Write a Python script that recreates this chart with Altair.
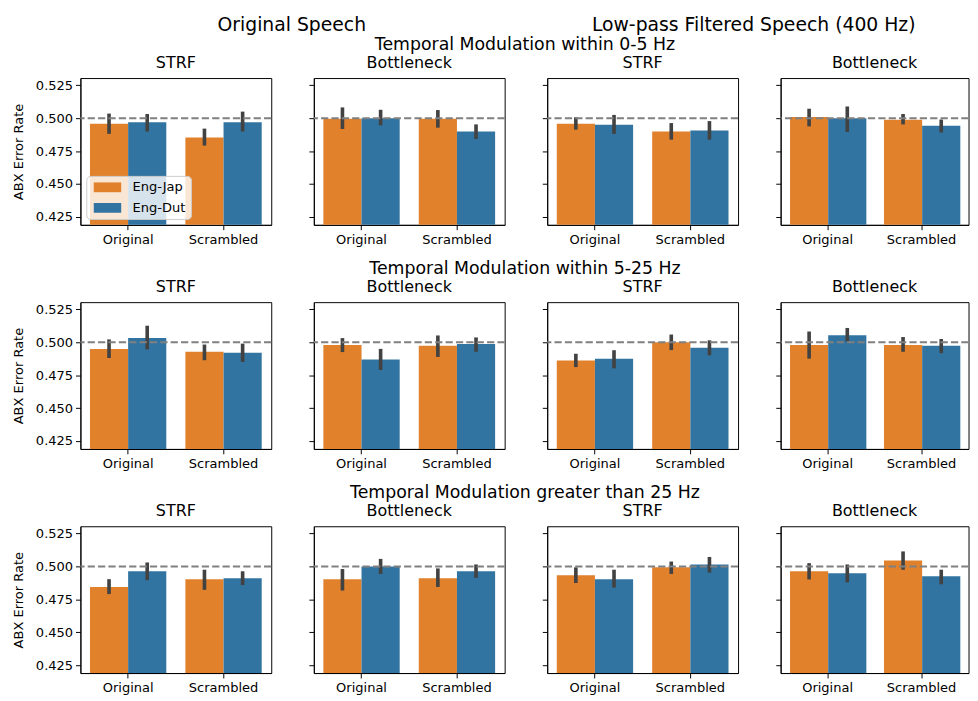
import altair as alt
import pandas as pd

CONDITIONS = ["Original", "Scrambled"]
LANG_PAIRS = ["Eng-Jap", "Eng-Dut"]
COLORS = ["#e1812c", "#3274a1"]
SPEECH_TYPES = ["Original Speech", "Low-pass Filtered Speech (400 Hz)"]
PANEL_MODELS = ["STRF", "Bottleneck", "STRF", "Bottleneck"]
ROW_TITLES = [
    "Temporal Modulation within 0-5 Hz",
    "Temporal Modulation within 5-25 Hz",
    "Temporal Modulation greater than 25 Hz",
]
CHANCE = 0.5
Y_TICKS = [0.425, 0.45, 0.475, 0.5, 0.525]
Y_DOMAIN = [0.419, 0.5305]

# order inside each panel: Original/Eng-Jap, Original/Eng-Dut, Scrambled/Eng-Jap, Scrambled/Eng-Dut
MEAN_0_5 = [
    [0.4958, 0.4970, 0.4854, 0.4970],
    [0.4995, 0.5000, 0.4995, 0.4899],
    [0.4958, 0.4950, 0.4899, 0.4906],
    [0.5010, 0.5000, 0.4988, 0.4943],
]
LO_0_5 = [
    [0.4881, 0.4899, 0.4792, 0.4899],
    [0.4918, 0.4946, 0.4928, 0.4842],
    [0.4913, 0.4881, 0.4837, 0.4837],
    [0.4938, 0.4896, 0.4953, 0.4891],
]
HI_0_5 = [
    [0.5035, 0.5032, 0.4921, 0.5050],
    [0.5082, 0.5064, 0.5062, 0.4953],
    [0.5007, 0.5025, 0.4963, 0.4978],
    [0.5072, 0.5089, 0.5032, 0.4990],
]

MEAN_5_25 = [
    [0.4950, 0.5032, 0.4928, 0.4921],
    [0.4980, 0.4869, 0.4973, 0.4988],
    [0.4861, 0.4876, 0.5000, 0.4958],
    [0.4980, 0.5054, 0.4980, 0.4973],
]
LO_5_25 = [
    [0.4881, 0.4946, 0.4864, 0.4851],
    [0.4926, 0.4790, 0.4889, 0.4928],
    [0.4812, 0.4802, 0.4941, 0.4901],
    [0.4876, 0.5007, 0.4928, 0.4918],
]
HI_5_25 = [
    [0.5022, 0.5126, 0.4983, 0.4990],
    [0.5032, 0.4950, 0.5052, 0.5037],
    [0.4913, 0.4940, 0.5059, 0.5015],
    [0.5082, 0.5109, 0.5040, 0.5025],
]

MEAN_GT25 = [
    [0.4844, 0.4963, 0.4903, 0.4911],
    [0.4903, 0.5000, 0.4911, 0.4963],
    [0.4933, 0.4903, 0.4993, 0.5015],
    [0.4963, 0.4948, 0.5045, 0.4926],
]
LO_GT25 = [
    [0.4790, 0.4896, 0.4822, 0.4859],
    [0.4817, 0.4943, 0.4844, 0.4913],
    [0.4874, 0.4839, 0.4943, 0.4953],
    [0.4901, 0.4879, 0.4975, 0.4864],
]
HI_GT25 = [
    [0.4903, 0.5030, 0.4975, 0.4963],
    [0.4980, 0.5057, 0.4985, 0.5015],
    [0.4993, 0.4975, 0.5037, 0.5072],
    [0.5025, 0.5015, 0.5114, 0.4975],
]

ROWS = [
    (MEAN_0_5, LO_0_5, HI_0_5),
    (MEAN_5_25, LO_5_25, HI_5_25),
    (MEAN_GT25, LO_GT25, HI_GT25),
]

FONT = "DejaVu Sans"
PANEL_W = [195, 195, 195, 192]
PANEL_H = 150

LEGEND_SYMBOL = "M-2.8,-1L2.8,-1L2.8,1L-2.8,1Z"


def panel(mean, lo, hi, model, col, with_legend):
    df = pd.DataFrame({
        "condition": [c for c in CONDITIONS for _ in LANG_PAIRS],
        "pair": [p for _ in CONDITIONS for p in LANG_PAIRS],
        "mean": mean,
        "lo": lo,
        "hi": hi,
    })
    x = alt.X("condition:N", sort=CONDITIONS,
              scale=alt.Scale(domain=CONDITIONS, paddingInner=0.2, paddingOuter=0.1),
              axis=alt.Axis(title=None, labelAngle=0, ticks=True, domain=True))
    xo = alt.XOffset("pair:N", sort=LANG_PAIRS,
                     scale=alt.Scale(domain=LANG_PAIRS, paddingInner=0, paddingOuter=0))
    first = col == 0
    if first:
        yaxis = alt.Axis(values=Y_TICKS, format=".3f", title="ABX Error Rate",
                         labels=True, ticks=True, titlePadding=10)
    else:
        yaxis = alt.Axis(values=Y_TICKS, format=".3f", title=None,
                         labels=False, ticks=True)
    yscale = alt.Scale(domain=Y_DOMAIN, zero=False, nice=False)
    if with_legend:
        legend = alt.Legend(title=None, orient="bottom-left", offset=6,
                            symbolType=LEGEND_SYMBOL, symbolSize=100, symbolOffset=10,
                            symbolStrokeWidth=0, symbolOpacity=1,
                            fillColor="rgba(255,255,255,0.8)", strokeColor="#cccccc",
                            cornerRadius=4, padding=5, rowPadding=7,
                            labelFontSize=13.3, labelColor="black", labelOffset=19,
                            labelFont=FONT)
    else:
        legend = None
    bars = alt.Chart(df).mark_bar(clip=True).encode(
        x=x, xOffset=xo,
        y=alt.Y("mean:Q", scale=yscale, axis=yaxis),
        color=alt.Color("pair:N", sort=LANG_PAIRS,
                        scale=alt.Scale(domain=LANG_PAIRS, range=COLORS),
                        legend=legend),
    )
    errs = alt.Chart(df).mark_rule(color="#424242", strokeWidth=3.7).encode(
        x=x, xOffset=xo,
        y=alt.Y("lo:Q", scale=yscale, axis=yaxis),
        y2="hi:Q",
    )
    chance = alt.Chart(pd.DataFrame({"chance": [CHANCE]})).mark_rule(
        color="#808080", strokeWidth=2, strokeDash=[7.4, 3.2]
    ).encode(y=alt.Y("chance:Q", scale=yscale, axis=yaxis))
    return alt.layer(bars, errs, chance).properties(
        width=PANEL_W[col], height=PANEL_H,
        title=alt.TitleParams(model, fontSize=16.3, offset=7, font=FONT,
                              fontWeight="normal", color="black"),
    )


def blank(title, w):
    return alt.Chart(pd.DataFrame({"t": [0]})).mark_point(opacity=0, size=0).encode(
        x=alt.value(0), y=alt.value(0)
    ).properties(
        width=w, height=1, view=alt.ViewBackground(stroke=None),
        title=alt.TitleParams(title, fontSize=19.2, font=FONT, fontWeight="normal",
                              color="black", anchor="middle", offset=0, frame="group"),
    )


header = alt.hconcat(blank(SPEECH_TYPES[0], 432), blank(SPEECH_TYPES[1], 420), spacing=46)

rows = []
for r, (means, los, his) in enumerate(ROWS):
    panels = [panel(means[c], los[c], his[c], PANEL_MODELS[c], c, r == 0 and c == 0)
              for c in range(4)]
    row = alt.hconcat(*panels, spacing=35.5,
                      title=alt.TitleParams(ROW_TITLES[r], fontSize=17.7, font=FONT,
                                            fontWeight="normal", color="black",
                                            anchor="middle", dx=35, offset=1)
                      ).resolve_scale(color="independent").resolve_legend(color="independent")
    rows.append(row)

body = alt.vconcat(*rows, spacing=14).resolve_scale(color="independent").resolve_legend(color="independent")

chart = alt.vconcat(header, body, spacing=0).resolve_scale(
    color="independent").resolve_legend(color="independent").properties(
    padding={"left": 3, "top": 0, "right": 0, "bottom": 0}
).configure(font=FONT).configure_view(stroke="black", strokeWidth=1).configure_axis(
    domainColor="black", domainWidth=1, tickColor="black", tickWidth=1, tickSize=5,
    labelFontSize=13.3, labelColor="black", labelFont=FONT, labelPadding=3,
    titleFontSize=13.3, titleColor="black", titleFontWeight="normal", titleFont=FONT,
    grid=False,
)

chart.save("out.html", embed_options={"renderer": "svg", "actions": False})
